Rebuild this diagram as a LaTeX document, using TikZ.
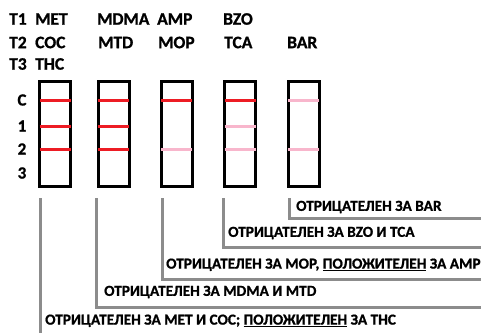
\documentclass[tikz,border=0pt]{standalone}
\usepackage{fontspec}
\setmainfont{Carlito}[Extension=.ttf,UprightFont=*-Regular,BoldFont=*-Bold,BoldFeatures={FakeBold=1}]
\definecolor{bandred}{RGB}{237,28,36}
\definecolor{bandpink}{RGB}{248,182,204}
\definecolor{conngray}{RGB}{140,140,140}
\newcommand{\myul}[1]{\leavevmode\vtop{\hbox{#1}\kern1.3pt\hrule height 1.4pt}}
\begin{document}
\begin{tikzpicture}[x=1pt,y=-1pt,
  hdr/.style={anchor=west,inner sep=0pt,font=\fontsize{17.5}{17.5}\selectfont\bfseries},
  lbl/.style={anchor=center,inner sep=0pt,font=\fontsize{17}{17}\selectfont\bfseries},
  res/.style={anchor=west,inner sep=0pt,font=\fontsize{15.3}{15.3}\selectfont\bfseries},
  strip/.style={draw=black,line width=3pt,minimum width=31pt,minimum height=105pt,inner sep=0pt},
  band/.style={line width=3pt,shorten <=1.5pt,shorten >=1.5pt},
  conn/.style={draw=conngray,line width=3pt}]
\useasboundingbox (0,0) rectangle (481,332);
% header
\node[hdr] (t1) at (9,19) {T1};
\node[hdr] (t2) at (9,42.5) {T2};
\node[hdr] (t3) at (9,64) {T3};
\node[hdr] (met) at (35,19) {MET};
\node[hdr] (coc) at (35,42.5) {COC};
\node[hdr] (thc) at (35,64) {THC};
\node[hdr] (mdma) at (97,19) {MDMA};
\node[hdr] (mtd) at (98,42.5) {MTD};
\node[hdr] (amp) at (157,19) {AMP};
\node[hdr] (mop) at (158,42.5) {MOP};
\node[hdr] (bzo) at (223,19) {BZO};
\node[hdr] (tca) at (224,42.5) {TCA};
\node[hdr] (bar) at (287,42.5) {BAR};
% row labels
\node[lbl] (lc) at (22,100) {C};
\node[lbl] (l1) at (22,126) {1};
\node[lbl] (l2) at (22,149) {2};
\node[lbl] (l3) at (22,173) {3};
% strips
\node[strip] (s1) at (55,134) {};
\node[strip] (s2) at (113.5,134) {};
\node[strip] (s3) at (176.5,134) {};
\node[strip] (s4) at (240,134) {};
\node[strip] (s5) at (303.5,134) {};
% bands
\draw[band,bandred] (s1.west |- lc) -- (s1.east |- lc);
\draw[band,bandred] (s1.west |- l1) -- (s1.east |- l1);
\draw[band,bandred] (s1.west |- l2) -- (s1.east |- l2);
\draw[band,bandred] (s2.west |- lc) -- (s2.east |- lc);
\draw[band,bandred] (s2.west |- l1) -- (s2.east |- l1);
\draw[band,bandred] (s2.west |- l2) -- (s2.east |- l2);
\draw[band,bandred] (s3.west |- lc) -- (s3.east |- lc);
\draw[band,bandpink] (s3.west |- l2) -- (s3.east |- l2);
\draw[band,bandred] (s4.west |- lc) -- (s4.east |- lc);
\draw[band,bandpink] (s4.west |- l1) -- (s4.east |- l1);
\draw[band,bandpink] (s4.west |- l2) -- (s4.east |- l2);
\draw[band,bandpink] (s5.west |- lc) -- (s5.east |- lc);
\draw[band,bandpink] (s5.west |- l2) -- (s5.east |- l2);
% results
\node[res] (r5) at (296,207) {ОТРИЦАТЕЛЕН ЗА BAR};
\node[res] (r4) at (228,233) {ОТРИЦАТЕЛЕН ЗА BZO И TCA};
\node[res] (r3) at (166,265) {ОТРИЦАТЕЛЕН ЗА MOP, \myul{ПОЛОЖИТЕЛЕН} ЗА AMP};
\node[res] (r2) at (104,292) {ОТРИЦАТЕЛЕН ЗА MDMA И MTD};
\node[res] (r1) at (45,321) {ОТРИЦАТЕЛЕН ЗА MET И COC; \myul{ПОЛОЖИТЕЛЕН} ЗА THC};
% connector ends
\coordinate (a1) at (40,198);
\coordinate (a2) at (96,198);
\coordinate (a3) at (162,198);
\coordinate (a4) at (223,198);
\coordinate (a5) at (289,198);
\coordinate (e1) at (40,334);
\coordinate (e2) at (483,307);
\coordinate (e3) at (483,279);
\coordinate (e4) at (483,247);
\coordinate (e5) at (483,218);
\draw[conn] (a1) -- (e1);
\draw[conn] (a2) |- (e2);
\draw[conn] (a3) |- (e3);
\draw[conn] (a4) |- (e4);
\draw[conn] (a5) |- (e5);
\end{tikzpicture}
\end{document}
